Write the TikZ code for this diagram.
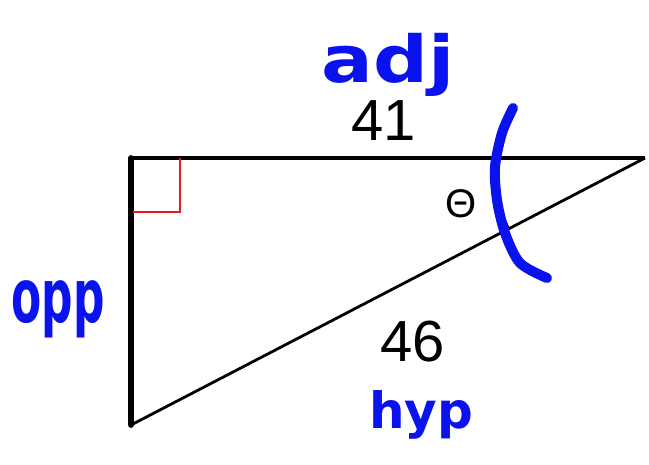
\documentclass[tikz,border=0pt]{standalone}
\usepackage{fontspec}
\setmainfont{Liberation Sans}
\newfontfamily\marker{DejaVu Sans}
\definecolor{pen}{HTML}{0A12EE}
\definecolor{rightred}{HTML}{E81B23}

\begin{document}
\begin{tikzpicture}[x=1pt,y=-1pt,
  side/.style={draw,black,line width=3.2pt},
  num/.style={inner sep=0pt,font=\fontsize{58}{60}\selectfont},
  scrawl/.style={pen,anchor=base,inner sep=0pt,font=\marker\bfseries},
  ink/.style={pen,line width=10pt,line cap=round,line join=round}]
\useasboundingbox (0,0) rectangle (649,464);
% the triangle
\coordinate (top) at (131,158);
\coordinate (tip) at (645,158);
\coordinate (foot) at (131,425);
\draw[side] (top)--(tip);
\draw[side,line width=2.8pt] (tip)--(foot);
\draw[side,line width=5.8pt,line cap=round] (foot)--(top);
\draw[rightred,line width=2.6pt] (180,158) |- (133,212);
\draw[line width=1.6pt] (492,158) arc[start angle=180,end angle=152.55,radius=153];
% printed labels
\node[num] (adjlen) at (384,121) {41};
\node[num] (hyplen) at (413,342) {46};
\node[inner sep=0pt,font=\fontsize{40}{44}\selectfont] (theta) at (461,204) {Θ};
% marker notes
\node[scrawl,font=\marker\bfseries\fontsize{48}{54}\selectfont] (adj) at (388,82) {\scalebox{1.6}[1.35]{adj}};
\node[scrawl,font=\marker\bfseries\fontsize{44}{50}\selectfont] (opp) at (58,322) {\scalebox{1}[1.7]{opp}};
\node[scrawl,font=\marker\bfseries\fontsize{50}{56}\selectfont] (hyp) at (421,428) {hyp};
\draw[ink] plot[smooth] coordinates {(513,108) (502,133) (495,167) (497,200) (505,233) (520,263) (547,278)};
\end{tikzpicture}
\end{document}
